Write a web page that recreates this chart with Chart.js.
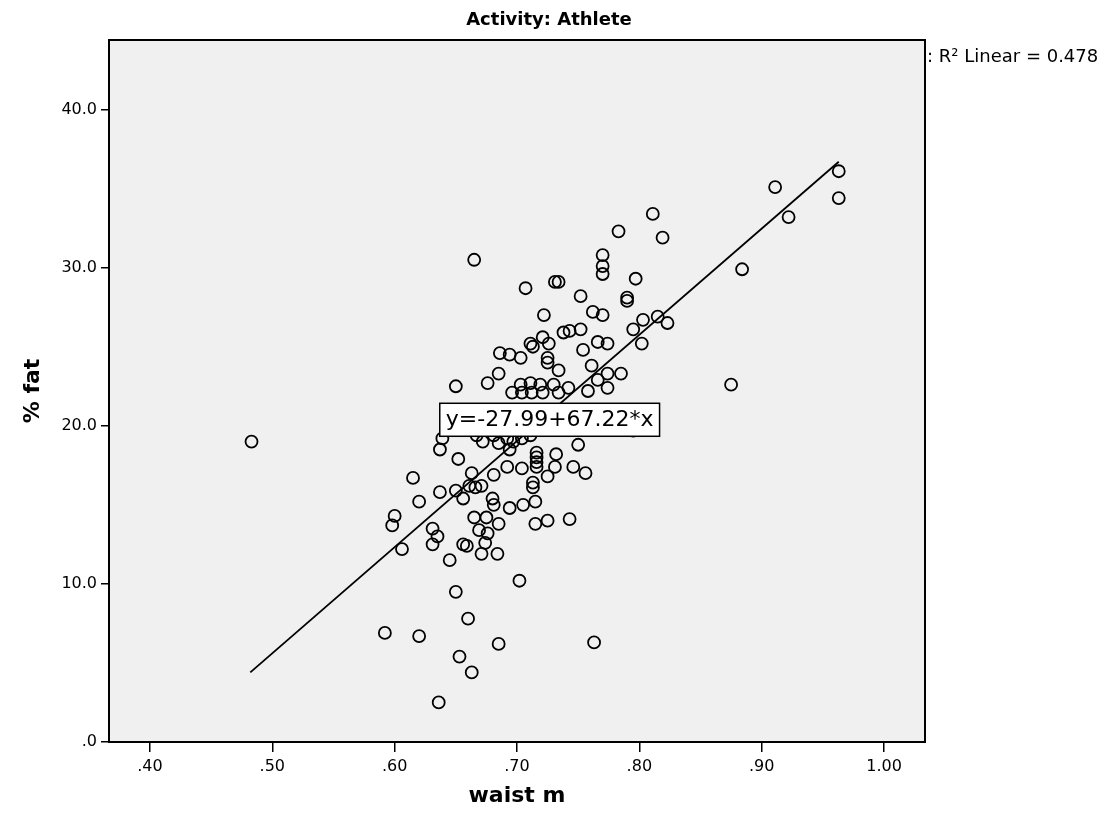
<!DOCTYPE html>
<html>
<head>
<meta charset="utf-8">
<title>Activity: Athlete</title>
<script src="https://cdn.jsdelivr.net/npm/chart.js@4.4.0/dist/chart.umd.min.js"></script>
<style>
  html, body { margin: 0; padding: 0; background: #fff; }
  #wrap { width: 1118px; height: 821px; }
</style>
</head>
<body>
<div id="wrap"><canvas id="fatChart" width="1118" height="821"></canvas></div>
<script>
// values
const waist = [
  0.963, 0.963, 0.911, 0.922, 0.884, 0.875, 0.811, 0.783, 0.819, 0.665,
  0.770, 0.770, 0.770, 0.797, 0.731, 0.734, 0.707, 0.752, 0.790, 0.790,
  0.722, 0.762, 0.770, 0.795, 0.803, 0.815, 0.823, 0.802, 0.738, 0.743,
  0.752, 0.766, 0.774, 0.754, 0.711, 0.713, 0.721, 0.726, 0.725, 0.725,
  0.686, 0.694, 0.703, 0.734, 0.761, 0.785, 0.685, 0.676, 0.650, 0.703,
  0.711, 0.719, 0.696, 0.704, 0.712, 0.721, 0.730, 0.734, 0.742, 0.758,
  0.766, 0.774, 0.774,
  0.682, 0.703, 0.723, 0.748, 0.772,
  0.795, 0.750,
  0.639, 0.637, 0.667, 0.672, 0.681, 0.685, 0.692, 0.697, 0.704, 0.711,
  0.652, 0.694, 0.716, 0.716, 0.716, 0.716, 0.732, 0.731, 0.746, 0.756,
  0.725, 0.663, 0.681, 0.692, 0.704, 0.713, 0.713, 0.661, 0.666, 0.671,
  0.615, 0.637, 0.650, 0.656, 0.620, 0.680, 0.681, 0.694, 0.705, 0.715,
  0.600, 0.598, 0.665, 0.675, 0.685, 0.715, 0.725, 0.743, 0.631, 0.635,
  0.631, 0.606, 0.669, 0.676, 0.674, 0.656, 0.659, 0.671, 0.684, 0.645,
  0.702, 0.650, 0.660, 0.592, 0.620, 0.685, 0.763, 0.653, 0.663, 0.636,
  0.483
];
const fat = [
  36.1, 34.4, 35.1, 33.2, 29.9, 22.6, 33.4, 32.3, 31.9, 30.5,
  30.8, 30.1, 29.6, 29.3, 29.1, 29.1, 28.7, 28.2, 28.1, 27.9,
  27.0, 27.2, 27.0, 26.1, 26.7, 26.9, 26.5, 25.2, 25.9, 26.0,
  26.1, 25.3, 25.2, 24.8, 25.2, 25.0, 25.6, 25.2, 24.3, 24.0,
  24.6, 24.5, 24.3, 23.5, 23.8, 23.3, 23.3, 22.7, 22.5, 22.6,
  22.7, 22.6, 22.1, 22.1, 22.1, 22.1, 22.6, 22.1, 22.4, 22.2,
  22.9, 23.3, 22.4,
  20.5, 20.9, 20.5, 21.0, 20.4,
  19.7, 18.8,
  19.2, 18.5, 19.4, 19.0, 19.4, 18.9, 19.2, 19.0, 19.2, 19.4,
  17.9, 18.5, 18.3, 18.0, 17.7, 17.4, 18.2, 17.4, 17.4, 17.0,
  16.8, 17.0, 16.9, 17.4, 17.3, 16.4, 16.1, 16.2, 16.1, 16.2,
  16.7, 15.8, 15.9, 15.4, 15.2, 15.4, 15.0, 14.8, 15.0, 15.2,
  14.3, 13.7, 14.2, 14.2, 13.8, 13.8, 14.0, 14.1, 13.5, 13.0,
  12.5, 12.2, 13.4, 13.2, 12.6, 12.5, 12.4, 11.9, 11.9, 11.5,
  10.2, 9.5, 7.8, 6.9, 6.7, 6.2, 6.3, 5.4, 4.4, 2.5,
  19.0
];
// ends of the fitted line as drawn
const fitX = [0.482, 0.963];
const fitY = [4.4, 36.7];

const xTicks = [0.4, 0.5, 0.6, 0.7, 0.8, 0.9, 1.0];
const yTicks = [0, 10, 20, 30, 40];

const chartTitle = "Activity: Athlete";
const fitLabel = "y=-27.99+67.22*x";
const r2Label = ": R\u00B2 Linear = 0.478";

const FONT = "'DejaVu Sans', 'Liberation Sans', sans-serif";

// plot background, frame, title, fit label and R2 note
const spssDecor = {
  id: "spssDecor",
  beforeDraw(chart) {
    const { ctx, chartArea: a } = chart;
    ctx.save();
    ctx.fillStyle = "#ffffff";
    ctx.fillRect(0, 0, chart.width, chart.height);
    ctx.fillStyle = "#f0f0f0";
    ctx.fillRect(a.left, a.top, a.right - a.left, a.bottom - a.top);
    ctx.restore();
  },
  afterDatasetsDraw(chart) {
    const { ctx, chartArea: a, scales } = chart;
    ctx.save();

    // equation box
    ctx.font = "22px " + FONT;
    const cx = scales.x.getPixelForValue(0.7267);
    const cy = scales.y.getPixelForValue(20.38);
    const w = ctx.measureText(fitLabel).width + 12;
    const h = 33;
    ctx.fillStyle = "#ffffff";
    ctx.fillRect(cx - w / 2, cy - h / 2, w, h);
    ctx.strokeStyle = "#000";
    ctx.lineWidth = 1.5;
    ctx.strokeRect(cx - w / 2, cy - h / 2, w, h);
    ctx.fillStyle = "#000";
    ctx.textAlign = "center";
    ctx.textBaseline = "middle";
    ctx.fillText(fitLabel, cx, cy + 1);

    // frame round the plot
    ctx.lineWidth = 2;
    ctx.strokeRect(a.left, a.top, a.right - a.left, a.bottom - a.top);

    // title
    ctx.font = "bold 18px " + FONT;
    ctx.fillText(chartTitle, 549, 20);

    // R2 note
    ctx.textAlign = "left";
    ctx.font = "18px " + FONT;
    ctx.fillText(r2Label, a.right + 2, 57);

    ctx.restore();
  }
};

const ctx = document.getElementById("fatChart").getContext("2d");

new Chart(ctx, {
  type: "scatter",
  data: {
    datasets: [
      {
        type: "line",
        label: "Fit",
        data: fitX.map((x, i) => ({ x: x, y: fitY[i] })),
        borderColor: "#000",
        borderWidth: 1.8,
        pointRadius: 0,
        fill: false,
      },
      {
        label: "% fat",
        data: waist.map((x, i) => ({ x: x, y: fat[i] })),
        pointRadius: 6,
        pointBorderWidth: 1.8,
        borderColor: "#000",
        backgroundColor: "rgba(0,0,0,0)",
      },
    ],
  },
  options: {
    responsive: false,
    animation: false,
    devicePixelRatio: 1,
    layout: { padding: { top: 40, right: 193, bottom: 0, left: 0 } },
    plugins: {
      legend: { display: false },
      tooltip: { enabled: false },
    },
    scales: {
      x: {
        type: "linear",
        min: 0.3665,
        max: 1.0335,
        afterBuildTicks: (s) => { s.ticks = xTicks.map((v) => ({ value: v })); },
        afterFit: (s) => { s.height = 79; },
        grid: { drawOnChartArea: false, tickLength: 10, color: "#000", lineWidth: 1.5 },
        border: { display: true, color: "#000", width: 2 },
        ticks: {
          color: "#000",
          padding: 5,
          maxRotation: 0,
          autoSkip: false,
          font: { family: FONT, size: 16 },
          callback: (v) => v.toFixed(2).replace(/^0/, ""),
        },
        title: {
          display: true,
          text: "waist m",
          color: "#000",
          font: { family: FONT, size: 22, weight: "bold" },
          padding: { top: 0, bottom: 12 },
        },
      },
      y: {
        min: 0,
        max: 44.4,
        afterBuildTicks: (s) => { s.ticks = yTicks.map((v) => ({ value: v })); },
        afterFit: (s) => { s.width = 109; },
        grid: { drawOnChartArea: false, tickLength: 8, color: "#000", lineWidth: 1.5 },
        border: { display: true, color: "#000", width: 2 },
        ticks: {
          color: "#000",
          padding: 4,
          autoSkip: false,
          font: { family: FONT, size: 16 },
          callback: (v) => v.toFixed(1).replace(/^0/, ""),
        },
        title: {
          display: true,
          text: "% fat",
          color: "#000",
          font: { family: FONT, size: 22, weight: "bold" },
          padding: { top: 20, bottom: 0 },
        },
      },
    },
  },
  plugins: [spssDecor],
});
</script>
</body>
</html>
